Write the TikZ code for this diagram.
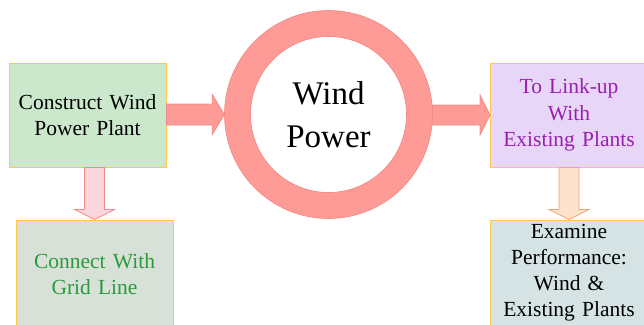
\documentclass[tikz,border=0pt]{standalone}
\usepackage{fontspec}
\setmainfont{Liberation Serif}
\usetikzlibrary{calc}

\definecolor{boxedge}{HTML}{FFC94D}
\definecolor{greenfill}{HTML}{CCE8CC}
\definecolor{greyfill}{HTML}{D7E1D7}
\definecolor{lilacfill}{HTML}{E8D6F8}
\definecolor{bluefill}{HTML}{D5E3E5}
\definecolor{greentext}{HTML}{2A9A3A}
\definecolor{purpletext}{HTML}{9A1FB0}
\definecolor{ringfill}{HTML}{FF9B96}
\definecolor{ringedge}{HTML}{F5857F}
\definecolor{pinkfill}{HTML}{F8D6DC}
\definecolor{pinkedge}{HTML}{F08A8A}
\definecolor{peachfill}{HTML}{FDE2CC}
\definecolor{peachedge}{HTML}{F4A27A}

\tikzset{
  stagebox/.style={draw=boxedge, line width=1pt, inner sep=0pt,
    minimum width=157pt, minimum height=104pt, text width=157pt, align=center,
    font=\fontsize{21.5}{26.5}\selectfont},
  hubtext/.style={circle, inner sep=0pt, minimum size=208pt, align=center,
    font=\fontsize{33}{43}\selectfont},
  bigarrow/.style={fill=ringfill, draw=pinkedge, line width=0.8pt, line join=miter},
  pinkarrow/.style={fill=pinkfill, draw=pinkedge, line width=0.8pt},
  peacharrow/.style={fill=peachfill, draw=peachedge, line width=0.8pt},
}

\begin{document}
\begin{tikzpicture}[x=1pt,y=-1pt]
\useasboundingbox (0,0) rectangle (644,324);
\clip (0,0) rectangle (644,324);

% stage boxes (the lower two run past the bottom edge)
\node[stagebox, fill=greenfill] (build) at (87.5,115) {Construct Wind\\Power Plant};
\node[stagebox, fill=greyfill, text=greentext, minimum height=108pt] (grid) at (94.5,274) {Connect With\\Grid Line};
\node[stagebox, fill=lilacfill, text=purpletext] (link) at (569,115) {To Link-up\\With\\Existing Plants};
\node[stagebox, fill=bluefill, minimum height=110pt, font=\fontsize{21.5}{26}\selectfont]
  (exam) at (569,275) {Examine\\Performance:\\Wind \&\\Existing Plants\rule[-9pt]{0pt}{9pt}};

% central hub text
\node[hubtext] (hub) at (328.5,114.5) {Wind\\Power};

% block arrow: build -> hub
\draw[bigarrow]
  ($(build.east |- hub.west)+(0,-10.5)$) -- ($(hub.west)+(-12,-10.5)$) --
  ($(hub.west)+(-12,-20)$) -- (hub.west) -- ($(hub.west)+(-12,20)$) --
  ($(hub.west)+(-12,10.5)$) -- ($(build.east |- hub.west)+(0,10.5)$) -- cycle;

% block arrow: hub -> link
\draw[bigarrow]
  ($(hub.east |- link.west)+(-14,-10)$) -- ($(link.west)+(-10,-10)$) --
  ($(link.west)+(-10,-20)$) -- (link.west) -- ($(link.west)+(-10,20)$) --
  ($(link.west)+(-10,10)$) -- ($(hub.east |- link.west)+(-14,10)$) -- cycle;

% block arrow: build -> grid
\draw[pinkarrow]
  ($(grid.north |- build.south)+(-10,0)$) -- ($(grid.north)+(-10,-10)$) --
  ($(grid.north)+(-20,-10)$) -- (grid.north) -- ($(grid.north)+(20,-10)$) --
  ($(grid.north)+(10,-10)$) -- ($(grid.north |- build.south)+(10,0)$) -- cycle;

% block arrow: link -> exam
\draw[peacharrow]
  ($(exam.north |- link.south)+(-10,0)$) -- ($(exam.north)+(-10,-10)$) --
  ($(exam.north)+(-20,-10)$) -- (exam.north) -- ($(exam.north)+(20,-10)$) --
  ($(exam.north)+(10,-10)$) -- ($(exam.north |- link.south)+(10,0)$) -- cycle;

% ring around the hub
\fill[ringfill, even odd rule] (hub.center) circle (104pt) (hub.center) circle (78pt);
\draw[ringedge, line width=0.6pt] (hub.center) circle (104pt) (hub.center) circle (78pt);
\end{tikzpicture}
\end{document}
